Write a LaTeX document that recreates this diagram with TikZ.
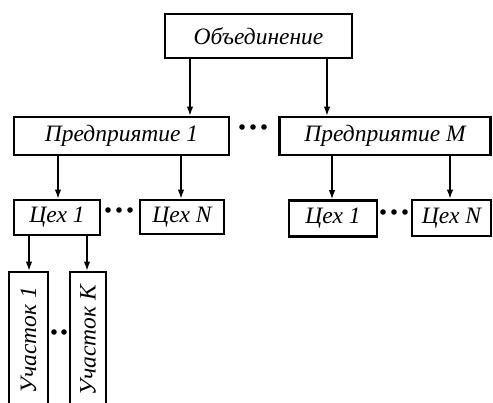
\documentclass[tikz,border=0pt]{standalone}
\usepackage{fontspec}
\setmainfont{Liberation Serif}
\usetikzlibrary{arrows.meta}
\begin{document}
\begin{tikzpicture}[x=1pt,y=-1pt,
  box/.style={draw, line width=2.8pt, rectangle, inner sep=0pt,
    font=\fontsize{23.5}{25}\selectfont\itshape},
  arr/.style={line width=1.2pt, -{Latex[length=9pt,width=6.5pt]}},
  dot/.style={fill=black}]
\useasboundingbox (0,0) rectangle (493,403);
\clip (0,0) rectangle (493,403);
\node[box, minimum width=187pt, minimum height=44pt] (top) at (258.5,36) {Объединение};
\node[box, minimum width=215pt, minimum height=38pt] (p1) at (121.5,136) {Предприятие 1};
\node[box, minimum width=211pt, minimum height=38pt] (pm) at (385,136) {Предприятие M};
\node[box, minimum width=86pt, minimum height=35pt] (c1l) at (57,217.5) {Цех 1};
\node[box, minimum width=84pt, minimum height=34pt] (cnl) at (182,217) {Цех N};
\node[box, minimum width=88pt, minimum height=36pt] (c1r) at (333,218.5) {Цех 1};
\node[box, minimum width=79pt, minimum height=36pt] (cnr) at (451.5,218) {Цех N};
\node[box, rotate=90, minimum width=136pt, minimum height=39pt] (u1) at (28.5,340) {Участок 1};
\node[box, rotate=90, minimum width=136pt, minimum height=36pt] (uk) at (88,340) {Участок K};
% arrows
\draw[arr] (top.south -| 190,0) -- (p1.north -| 190,0);
\draw[arr] (top.south -| 327,0) -- (pm.north -| 327,0);
\draw[arr] (p1.south -| 58,0) -- (c1l.north -| 58,0);
\draw[arr] (p1.south -| 181,0) -- (cnl.north -| 181,0);
\draw[arr] (pm.south -| 332,0) -- (c1r.north -| 332,0);
\draw[arr] (pm.south -| 450,0) -- (cnr.north -| 450,0);
\draw[arr] (c1l.south -| 29,0) -- (u1.east -| 29,0);
\draw[arr] (c1l.south -| 87,0) -- (uk.east -| 87,0);
% dots
\foreach \x in {242,253,264} \fill[dot] (\x,127) circle (2.8);
\foreach \x in {108,119,130} \fill[dot] (\x,210) circle (2.8);
\foreach \x in {383,394,405} \fill[dot] (\x,212) circle (2.8);
\foreach \x in {54,64} \fill[dot] (\x,332) circle (2.8);
\end{tikzpicture}
\end{document}
